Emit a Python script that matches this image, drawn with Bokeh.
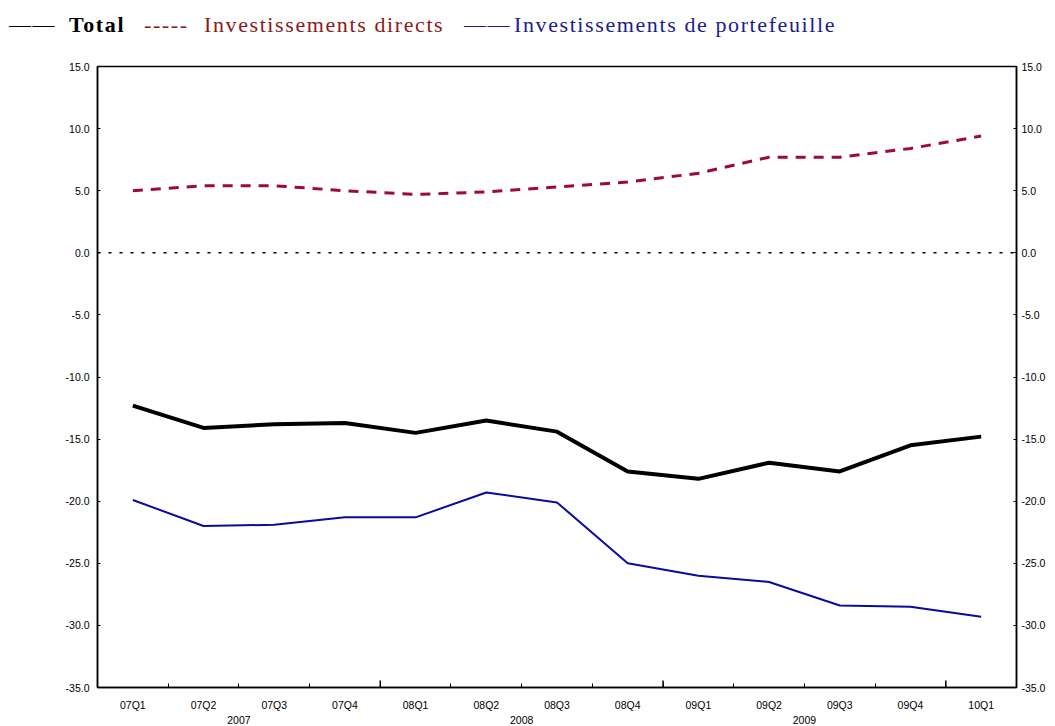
import numpy as np
from bokeh.plotting import figure
from bokeh.layouts import column
from bokeh.models import (FixedTicker, LinearAxis, PrintfTickFormatter, Span, Range1d, Div)
from bokeh.embed import file_html
from bokeh.resources import INLINE

quarters = ["07Q1", "07Q2", "07Q3", "07Q4", "08Q1", "08Q2", "08Q3", "08Q4",
            "09Q1", "09Q2", "09Q3", "09Q4", "10Q1"]
years = ["2007", "2008", "2009"]
quarters_per_year = [4, 4, 4]

total = [-12.3, -14.1, -13.8, -13.7, -14.5, -13.5, -14.4, -17.6, -18.2, -16.9, -17.6, -15.5, -14.8]
directs = [5.0, 5.4, 5.4, 5.0, 4.7, 4.9, 5.3, 5.7, 6.4, 7.7, 7.7, 8.4, 9.4]
portefeuille = [-19.9, -22.0, -21.9, -21.3, -21.3, -19.3, -20.1, -25.0, -26.0, -26.5, -28.4, -28.5, -29.3]

y_ticks = [-35, -30, -25, -20, -15, -10, -5, 0, 5, 10, 15]

legend_texts = ["——", "Total", "-----", "Investissements directs", "——",
                "Investissements de portefeuille"]
legend_colors = ["black", "black", "#8b1a1a", "#8b1a1a", "#1c1c8c", "#1c1c8c"]
legend_weights = ["normal", "bold", "normal", "normal", "normal", "normal"]
legend_left = [9, 69, 144, 204, 464, 514]

n = len(quarters)
xc = np.arange(n) + 0.5
bounds = [float(b) for b in np.arange(1, n)]
year_bounds = [float(b) for b in np.cumsum(quarters_per_year)]
year_centers = [float(c) for c in np.cumsum(quarters_per_year) - np.array(quarters_per_year) / 2.0]

DIV_H = 40
FW, FH = 919, 621
p = figure(frame_width=FW, frame_height=FH, min_border_left=97, min_border_right=33,
           min_border_top=66 - DIV_H, min_border_bottom=20,
           x_range=Range1d(0, n), y_range=Range1d(-35, 15),
           output_backend="svg", toolbar_location=None, x_axis_type=None, y_axis_type=None)
p.xgrid.visible = False
p.ygrid.visible = False
p.outline_line_color = "black"
p.outline_line_width = 1.5
p.background_fill_color = "white"
p.border_fill_color = "white"

tick_font = "Liberation Sans"

# x axis (quarters)
xax = LinearAxis(ticker=FixedTicker(ticks=list(xc), minor_ticks=bounds),
                 major_label_overrides={float(x): q for x, q in zip(xc, quarters)})
xax.major_tick_in = 0
xax.major_tick_out = 0
xax.minor_tick_in = 4
xax.minor_tick_out = 0
xax.minor_tick_line_color = "black"
xax.axis_line_color = "black"
xax.axis_line_width = 1.5
xax.major_label_standoff = 11
xax.major_label_text_font = tick_font
xax.major_label_text_font_size = "10.5px"
xax.major_label_text_color = "black"
p.add_layout(xax, "below")

# x axis (years)
yrax = LinearAxis(ticker=FixedTicker(ticks=year_centers, minor_ticks=[]),
                  major_label_overrides={c: y for c, y in zip(year_centers, years)})
yrax.major_tick_in = 0
yrax.major_tick_out = 0
yrax.minor_tick_in = 0
yrax.minor_tick_out = 0
yrax.axis_line_color = None
yrax.major_label_standoff = 2
yrax.major_label_text_font = tick_font
yrax.major_label_text_font_size = "10.5px"
yrax.major_label_text_color = "black"
p.add_layout(yrax, "below")

# y axes
for side in ["left", "right"]:
    yax = LinearAxis(ticker=FixedTicker(ticks=y_ticks, minor_ticks=[]),
                     formatter=PrintfTickFormatter(format="%.1f"))
    yax.major_tick_in = 3
    yax.major_tick_out = 0
    yax.minor_tick_in = 0
    yax.minor_tick_out = 0
    yax.axis_line_color = "black"
    yax.axis_line_width = 1.5
    yax.major_label_standoff = 8 if side == "left" else 5
    yax.major_label_text_font = tick_font
    yax.major_label_text_font_size = "10.5px"
    yax.major_label_text_color = "black"
    p.add_layout(yax, side)

# long year ticks
p.scatter(x=year_bounds, y=[-35] * len(year_bounds), marker="dash",
          angle=np.pi / 2, size=14, line_color="black", line_width=1.5)

# zero line
p.add_layout(Span(location=0, dimension="width", line_color="black", line_width=1.5,
                  line_dash="3 8"))

p.line(xc, directs, line_color="#9b0a3c", line_width=3, line_dash="10 8")
p.line(xc, total, line_color="black", line_width=4)
p.line(xc, portefeuille, line_color="#0a0aa0", line_width=2)

# legend as text in a Div above the plot
spans = "".join(
    f'<span style="position:absolute;left:{l}px;top:14px;color:{c};font-weight:{w};'
    f'white-space:nowrap;letter-spacing:1.6px;">{t}</span>'
    for l, t, c, w in zip(legend_left, legend_texts, legend_colors, legend_weights)
)
html = (f'<div style="position:relative;width:1040px;height:{DIV_H}px;'
        f"font-family:'Liberation Serif';font-size:22px;line-height:22px;\">{spans}</div>")
div = Div(text=html, width=1040, height=DIV_H, margin=(0, 0, 0, 0))

layout = column(div, p, spacing=0)
open("out.html", "w").write(file_html(layout, INLINE))
